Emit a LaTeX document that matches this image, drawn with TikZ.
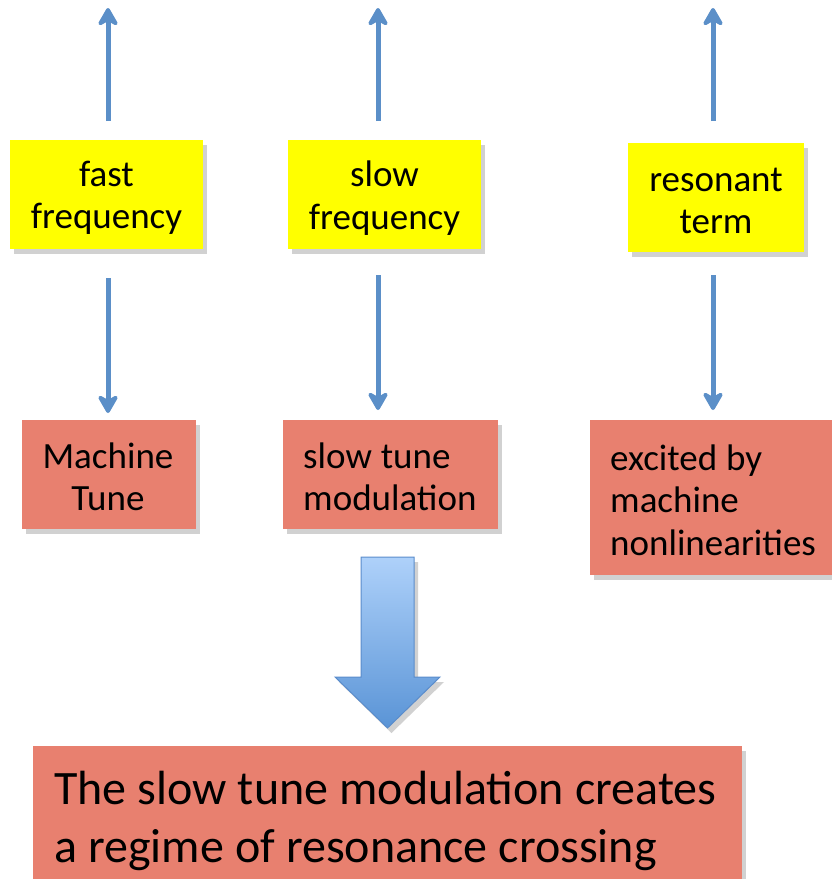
\documentclass[tikz,border=0pt]{standalone}
\usepackage{fontspec}
\setmainfont{Carlito}
\usetikzlibrary{arrows.meta,shadows}
\definecolor{ylw}{HTML}{FFFF00}
\definecolor{salmon}{HTML}{E8806F}
\definecolor{lineblue}{HTML}{5B8FC8}
\definecolor{arrtop}{HTML}{AED1FA}
\definecolor{arrbot}{HTML}{5A94D6}
\definecolor{arredge}{HTML}{5A8CCB}
\newcommand\midfont{\fontsize{37}{42.5}\selectfont\spaceskip=0.24em plus 0.05em minus 0.05em\relax}
\newcommand\bigfont{\fontsize{48}{58}\selectfont\spaceskip=0.23em plus 0.05em minus 0.05em\relax}
\tikzset{
  shad/.style={drop shadow={shadow xshift=4pt,shadow yshift=-5pt,opacity=0.3,fill=black!60}},
  ybox/.style={shad,fill=ylw,inner sep=0pt},
  rbox/.style={shad,fill=salmon,inner sep=0pt},
  ctext/.style={inner sep=0pt,align=center,font=\midfont},
  ltext/.style={inner sep=0pt,align=left,font=\midfont,anchor=west},
  conn/.style={draw=lineblue,line width=5pt,-{Stealth[length=22pt,width=25pt,inset=7pt,round]}},
}
\begin{document}
\begin{tikzpicture}[x=1pt,y=-1pt]
\useasboundingbox (0,0) rectangle (832,879);
% yellow boxes
\node[ybox,minimum width=193pt,minimum height=109pt] (y1) at (106.5,194.5) {};
\node[ctext] (y1t) at (106.5,198) {fast\\frequency};
\node[ybox,minimum width=193pt,minimum height=109pt] (y2) at (384.5,194.5) {};
\node[ctext] (y2t) at (384.5,198) {slow\\frequency};
\node[ybox,minimum width=176pt,minimum height=109pt] (y3) at (716,197.5) {};
\node[ctext] (y3t) at (716,201) {resonant\\term};
% red boxes
\node[rbox,minimum width=174pt,minimum height=109pt] (r1) at (109,474.5) {};
\node[ctext] (r1t) at (108,477) {Machine\\Tune};
\node[rbox,minimum width=215pt,minimum height=109pt] (r2) at (390.5,474.5) {};
\node[ltext] (r2t) at (303,477) {slow tune\\modulation};
\node[rbox,minimum width=242pt,minimum height=155pt] (r3) at (711,497.5) {};
\node[ltext] (r3t) at (610,500) {excited by\\machine\\nonlinearities};
\node[rbox,minimum width=709pt,minimum height=140pt] (b) at (387.5,816) {};
\node[ltext,font=\bigfont] (bt) at (54,821) {The slow tune modulation creates\\a regime of resonance crossing};
% top arrows
\coordinate (u1) at (108,121); \coordinate (t1) at (108,8);
\coordinate (u2) at (378,121); \coordinate (t2) at (378,8);
\coordinate (u3) at (713,121); \coordinate (t3) at (713,8);
\draw[conn] (u1) -- (t1);
\draw[conn] (u2) -- (t2);
\draw[conn] (u3) -- (t3);
% down arrows
\coordinate (s1) at (108,278); \coordinate (e1) at (108,413);
\coordinate (s2) at (378,275); \coordinate (e2) at (378,410);
\coordinate (s3) at (713,275); \coordinate (e3) at (713,410);
\draw[conn] (s1) -- (e1);
\draw[conn] (s2) -- (e2);
\draw[conn] (s3) -- (e3);
% big block arrow
\path[shad,top color=arrtop,bottom color=arrbot,draw=arredge,line width=1pt]
  (361,557) -- (414,557) -- (414,677) -- (440,677) -- (387.5,728) -- (335,677) -- (361,677) -- cycle;
\end{tikzpicture}
\end{document}
